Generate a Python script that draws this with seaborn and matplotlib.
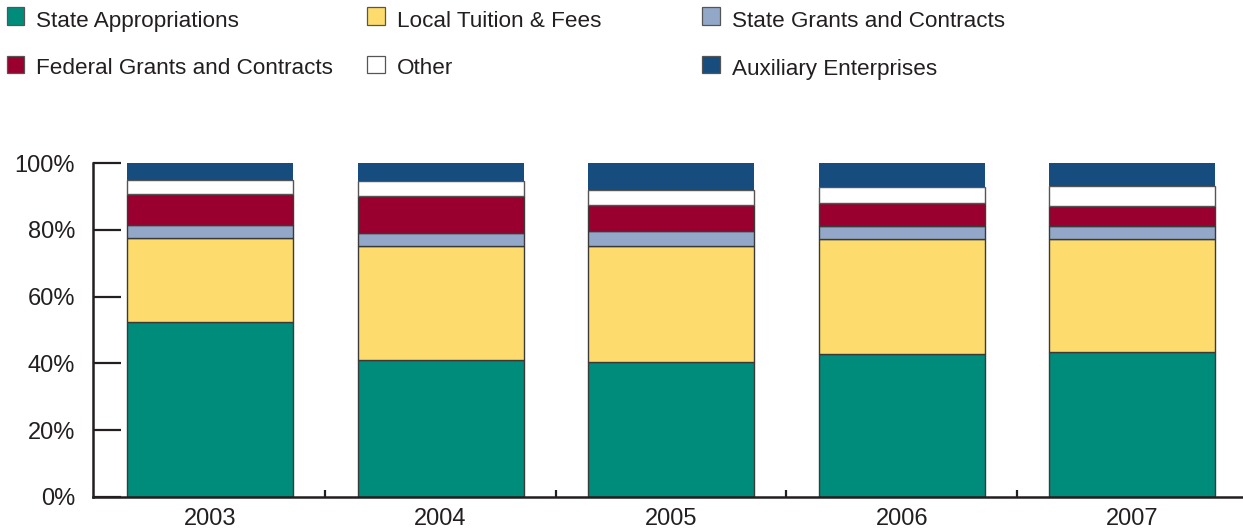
import numpy as np
import pandas as pd
import matplotlib
matplotlib.use("Agg")
import matplotlib.pyplot as plt
from matplotlib.patches import Rectangle
import seaborn as sns

years = ["2003", "2004", "2005", "2006", "2007"]
series_names = ["State Appropriations", "Local Tuition & Fees", "State Grants and Contracts",
                "Federal Grants and Contracts", "Other", "Auxiliary Enterprises"]
state_appropriations = [52.4, 41.0, 40.5, 42.7, 43.3]
local_tuition = [25.1, 34.3, 34.7, 34.6, 34.0]
state_grants = [4.1, 3.7, 4.4, 3.9, 3.9]
federal_grants = [9.2, 11.2, 7.9, 6.9, 6.1]
other = [4.2, 4.6, 4.5, 4.8, 6.0]
auxiliary = [5.0, 5.2, 8.0, 7.1, 6.7]
yticks = [0, 20, 40, 60, 80, 100]
ytick_labels = ["0%", "20%", "40%", "60%", "80%", "100%"]

colors = ["#008C7B", "#FDDC6D", "#93A8C8", "#990030", "#FFFFFF", "#174C7E"]
edges = ["#3a3a3a", "#3a3a3a", "#3a3a3a", "#3a3a3a", "#555555", "none"]
ink = "#231f20"

sns.set_theme(style="white")
plt.rcParams["font.family"] = ["Liberation Sans", "DejaVu Sans"]

fig = plt.figure(figsize=(12.43, 5.32), dpi=100)
ax = fig.add_axes([93.3 / 1243, 1 - 496.7 / 532, 1 - 93.3 / 1243, (496.7 - 163.3) / 532])

all_series = [state_appropriations, local_tuition, state_grants, federal_grants, other, auxiliary]
bottom = np.zeros(len(years))
for name, vals, col, ec in zip(series_names, all_series, colors, edges):
    df = pd.DataFrame({"year": years, "value": vals})
    sns.barplot(data=df, x="year", y="value", order=years, color=col, saturation=1,
                width=0.72, bottom=bottom, edgecolor=ec, linewidth=1.0, ax=ax, errorbar=None)
    bottom = bottom + np.array(vals)

ax.set_xlim(-0.506, 4.48)
ax.set_ylim(0, 100)
ax.set_xlabel("")
ax.set_ylabel("")
ax.set_yticks(yticks)
ax.set_yticklabels(ytick_labels)
ax.set_xticks(range(len(years)))
ax.set_xticklabels(years)
ax.set_xticks([0.5, 1.5, 2.5, 3.5], minor=True)
ax.tick_params(axis="y", direction="in", length=20, width=1.6, color=ink, labelsize=17,
               labelcolor=ink, pad=13, left=True)
ax.tick_params(axis="x", which="major", length=0, labelsize=17, labelcolor=ink, pad=8)
ax.tick_params(axis="x", which="minor", direction="in", length=5, width=1.6, color=ink, bottom=True)
for s in ["top", "right"]:
    ax.spines[s].set_visible(False)
for s in ["left", "bottom"]:
    ax.spines[s].set_color(ink)
    ax.spines[s].set_linewidth(1.8)

# legend (manual layout to match reference spacing)
W, H = 1243, 532
# (marker left, marker top, text baseline)
leg_pos = [(6.5, 7.5, 26.7), (367, 7.5, 26.7), (702, 7.5, 26.7),
           (6.5, 55.5, 74.5), (367, 55.5, 74.5), (702, 55.5, 74.5)]
for (lx, mt, tb), name, col in zip(leg_pos, series_names, colors):
    fig.patches.append(Rectangle((lx / W, 1 - (mt + 17.5) / H), 17.5 / W, 17.5 / H,
                                 transform=fig.transFigure, facecolor=col,
                                 edgecolor="#555555", linewidth=0.9))
    fig.text((lx + 30) / W, 1 - tb / H, name, fontsize=16.2, color=ink,
             va="baseline", ha="left")

fig.savefig("out.png", dpi=100)
